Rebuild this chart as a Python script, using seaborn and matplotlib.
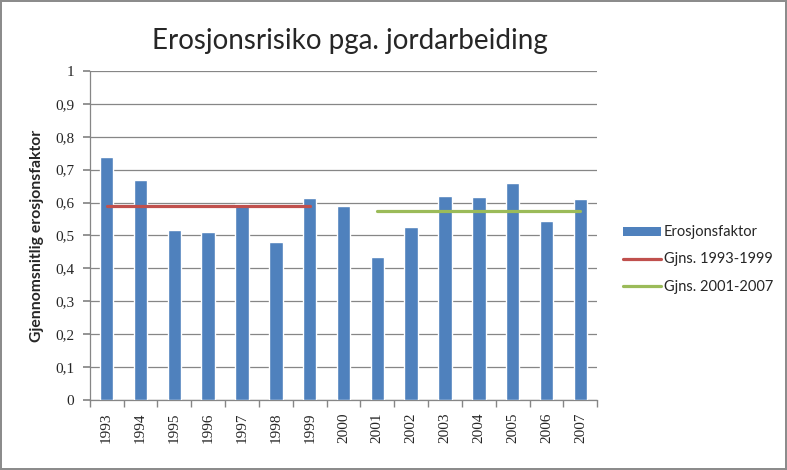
import numpy as np
import pandas as pd
import matplotlib.pyplot as plt
import seaborn as sns
from matplotlib.patches import Patch
from matplotlib.lines import Line2D
from matplotlib.ticker import FuncFormatter

sns.set_theme(style="white")
plt.rcParams['font.family'] = ['Lato', 'DejaVu Sans']

# data
years = ['1993', '1994', '1995', '1996', '1997', '1998', '1999', '2000',
         '2001', '2002', '2003', '2004', '2005', '2006', '2007']
erosjonsfaktor = [0.740, 0.669, 0.517, 0.511, 0.597, 0.480, 0.615, 0.591,
                  0.435, 0.526, 0.620, 0.617, 0.660, 0.544, 0.611]
periode_1 = ('1993', '1999')
periode_2 = ('2001', '2007')
gjns_1 = 0.590
gjns_2 = 0.573

df = pd.DataFrame({'year': years, 'value': erosjonsfaktor})

bar_col = '#4F81BD'
red_col = '#C0504D'
green_col = '#9BBB59'
grid_col = '#868686'
tick_font = ['Liberation Serif', 'DejaVu Serif']

fig = plt.figure(figsize=(7.87, 4.70), dpi=100)
fig.patch.set_edgecolor('#8c8c8c')
fig.patch.set_linewidth(1.5)
ax = fig.add_axes([0.114, 0.149, 0.645, 0.700])

sns.barplot(data=df, x='year', y='value', color=bar_col, width=0.4,
            saturation=1, ax=ax, zorder=3)

# gjennomsnittslinjer
i0, i1 = years.index(periode_1[0]), years.index(periode_1[1])
ax.plot([i0, i1], [gjns_1, gjns_1], color=red_col, lw=2.3, zorder=4)
j0, j1 = years.index(periode_2[0]), years.index(periode_2[1])
ax.plot([j0, j1], [gjns_2, gjns_2], color=green_col, lw=2.3, zorder=4)

ax.set_xlim(-0.5, len(years) - 0.5)
ax.set_ylim(0, 1)
ax.set_yticks(np.arange(0, 1.01, 0.1))
ax.yaxis.set_major_formatter(FuncFormatter(
    lambda v, p: '0' if v == 0 else ('1' if abs(v - 1) < 1e-9 else f'{v:.1f}'.replace('.', ','))))
ax.grid(axis='y', color=grid_col, lw=0.9, zorder=0)

ax.set_xticks(np.arange(len(years)))
ax.set_xticklabels(years, rotation=90)
ax.set_xticks(np.arange(-0.5, len(years)), minor=True)
ax.tick_params(axis='x', which='major', length=0, pad=9)
ax.tick_params(axis='x', which='minor', length=5, color=grid_col, direction='out', bottom=True)
ax.tick_params(axis='y', length=5, color=grid_col, direction='out', left=True, pad=6)
for lab in ax.get_xticklabels() + ax.get_yticklabels():
    lab.set_family(tick_font)
    lab.set_fontsize(11)

for s in ['top', 'right']:
    ax.spines[s].set_visible(False)
for s in ['left', 'bottom']:
    ax.spines[s].set_color(grid_col)
    ax.spines[s].set_linewidth(0.9)

ax.set_xlabel('')
ax.set_ylabel('Gjennomsnitlig erosjonsfaktor', fontsize=11.3, fontweight='bold', labelpad=8)

fig.text(0.445, 0.912, 'Erosjonsrisiko pga. jordarbeiding', ha='center', va='center', fontsize=20)

handles = [Patch(facecolor=bar_col, edgecolor='none'),
           Line2D([], [], color=red_col, lw=2.3),
           Line2D([], [], color=green_col, lw=2.3)]
labels = ['Erosjonsfaktor', 'Gjns. 1993-1999', 'Gjns. 2001-2007']
fig.legend(handles, labels, loc='center left', bbox_to_anchor=(0.775, 0.448),
           frameon=False, fontsize=10.5, handlelength=2.6, handleheight=0.6,
           handletextpad=0.2, labelspacing=0.9)

fig.savefig('out.png', dpi=100)
